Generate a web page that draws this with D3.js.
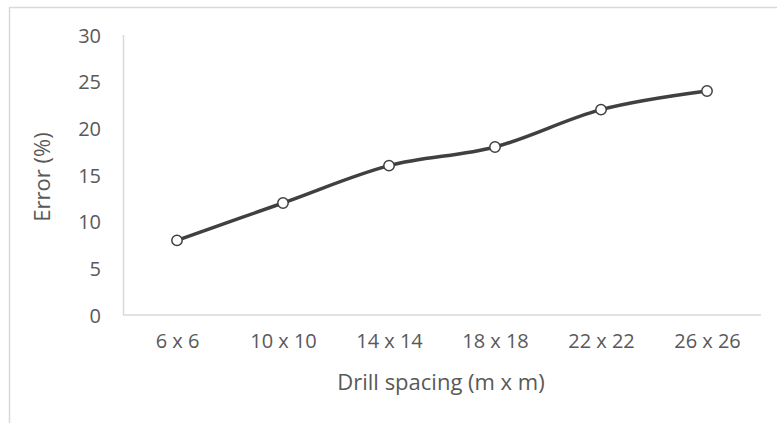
<!DOCTYPE html>
<html>
<head>
<meta charset="utf-8">
<script src="https://cdn.jsdelivr.net/npm/d3@7"></script>
<style>
  html, body { margin: 0; padding: 0; background: #fff; }
  svg { display: block; }
  text { font-family: "Open Sans", "Liberation Sans", sans-serif; fill: #595959; }
</style>
</head>
<body>
<svg id="chart" width="777" height="423"></svg>
<script>
// Drill spacing categories and measured error (%)
const categories = ["6 x 6", "10 x 10", "14 x 14", "18 x 18", "22 x 22", "26 x 26"];
const errorValues = [8, 12, 16, 18, 22, 24];
const yTicks = [0, 5, 10, 15, 20, 25, 30];

const svg = d3.select("#chart");
const W = 777, H = 423;
const plot = { left: 124, right: 760, top: 35, bottom: 315 };

// Outer chart frame (extends past the right and bottom edges)
svg.append("rect")
  .attr("x", 9.5).attr("y", 7.5)
  .attr("width", W + 10).attr("height", H + 10)
  .attr("fill", "none").attr("stroke", "#d9d9d9").attr("stroke-width", 1.5);

const x = d3.scalePoint().domain(categories)
  .range([plot.left, plot.right]).padding(0.5);
const y = d3.scaleLinear().domain([0, 30]).range([plot.bottom, plot.top]);

// Y axis: labels only, plus a vertical axis line
const yAxis = svg.append("g")
  .attr("transform", `translate(${plot.left},0)`)
  .call(d3.axisLeft(y).tickValues(yTicks).tickSize(0).tickPadding(23));
yAxis.select(".domain").remove();
yAxis.selectAll("text").style("font-size", "20px").attr("fill", "#595959").attr("dy", "0.36em");

svg.append("line")
  .attr("x1", plot.left - 0.5).attr("x2", plot.left - 0.5)
  .attr("y1", plot.top).attr("y2", plot.bottom)
  .attr("stroke", "#d9d9d9").attr("stroke-width", 1.5);

// X axis: baseline and category labels
const xAxis = svg.append("g")
  .attr("transform", `translate(0,${plot.bottom})`)
  .call(d3.axisBottom(x).tickSize(0).tickPadding(19));
xAxis.select(".domain").remove();
xAxis.selectAll("text").style("font-size", "20px").attr("fill", "#595959");

svg.append("line")
  .attr("x1", plot.left - 1).attr("x2", plot.right + 1)
  .attr("y1", plot.bottom).attr("y2", plot.bottom)
  .attr("stroke", "#d9d9d9").attr("stroke-width", 1.5);

// Axis titles
svg.append("text")
  .attr("x", (plot.left + plot.right) / 2 - 1).attr("y", 390)
  .attr("text-anchor", "middle").style("font-size", "22px")
  .text("Drill spacing (m x m)");

svg.append("text")
  .attr("transform", `translate(50,${(plot.top + plot.bottom) / 2 + 2}) rotate(-90)`)
  .attr("text-anchor", "middle").style("font-size", "22px")
  .text("Error (%)");

// Smoothed series line
const pts = categories.map((c, i) => [x(c), y(errorValues[i])]);
svg.append("path")
  .attr("d", d3.line().curve(d3.curveCardinal.tension(0))(pts))
  .attr("fill", "none").attr("stroke", "#404040")
  .attr("stroke-width", 3.5).attr("stroke-linejoin", "round").attr("stroke-linecap", "round");

// Point markers
svg.selectAll("circle.pt").data(pts).join("circle")
  .attr("class", "pt")
  .attr("cx", d => d[0]).attr("cy", d => d[1]).attr("r", 5.2)
  .attr("fill", "#fff").attr("stroke", "#404040").attr("stroke-width", 1.5);
</script>
</body>
</html>
